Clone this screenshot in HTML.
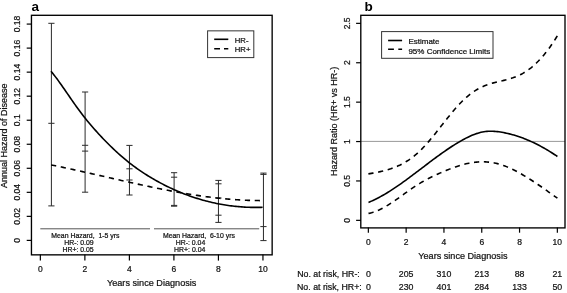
<!DOCTYPE html>
<html><head><meta charset="utf-8"><style>
html,body{margin:0;padding:0;background:#fff;}
body{width:567px;height:293px;overflow:hidden;font-family:"Liberation Sans",sans-serif;}
svg{display:block;filter:blur(0.45px);}
text{stroke:#111;stroke-width:0.22px;}
</style></head><body>
<svg width="567" height="293" viewBox="0 0 567 293" font-family="Liberation Sans, sans-serif">
<rect width="567" height="293" fill="#fff"/>
<g stroke="#000" stroke-width="1.2" fill="none">
<line x1="26.7" y1="240.40" x2="31.5" y2="240.40"/>
<line x1="26.7" y1="216.36" x2="31.5" y2="216.36"/>
<line x1="26.7" y1="192.33" x2="31.5" y2="192.33"/>
<line x1="26.7" y1="168.29" x2="31.5" y2="168.29"/>
<line x1="26.7" y1="144.26" x2="31.5" y2="144.26"/>
<line x1="26.7" y1="120.22" x2="31.5" y2="120.22"/>
<line x1="26.7" y1="96.18" x2="31.5" y2="96.18"/>
<line x1="26.7" y1="72.15" x2="31.5" y2="72.15"/>
<line x1="26.7" y1="48.11" x2="31.5" y2="48.11"/>
<line x1="26.7" y1="24.08" x2="31.5" y2="24.08"/>
<line x1="40.35" y1="254.5" x2="40.35" y2="260.6"/>
<line x1="84.87" y1="254.5" x2="84.87" y2="260.6"/>
<line x1="129.39" y1="254.5" x2="129.39" y2="260.6"/>
<line x1="173.91" y1="254.5" x2="173.91" y2="260.6"/>
<line x1="218.43" y1="254.5" x2="218.43" y2="260.6"/>
<line x1="262.95" y1="254.5" x2="262.95" y2="260.6"/>
</g>
<g font-size="8.5" fill="#111" text-anchor="middle">
<text transform="translate(20.1,240.40) rotate(-90)">0</text>
<text transform="translate(20.1,216.36) rotate(-90)">0.02</text>
<text transform="translate(20.1,192.33) rotate(-90)">0.04</text>
<text transform="translate(20.1,168.29) rotate(-90)">0.06</text>
<text transform="translate(20.1,144.26) rotate(-90)">0.08</text>
<text transform="translate(20.1,120.22) rotate(-90)">0.1</text>
<text transform="translate(20.1,96.18) rotate(-90)">0.12</text>
<text transform="translate(20.1,72.15) rotate(-90)">0.14</text>
<text transform="translate(20.1,48.11) rotate(-90)">0.16</text>
<text transform="translate(20.1,24.08) rotate(-90)">0.18</text>
<text x="40.35" y="272">0</text>
<text x="84.87" y="272">2</text>
<text x="129.39" y="272">4</text>
<text x="173.91" y="272">6</text>
<text x="218.43" y="272">8</text>
<text x="262.95" y="272">10</text>
</g>
<text x="151.7" y="286.1" font-size="9.15" fill="#111" text-anchor="middle">Years since Diagnosis</text>
<text transform="translate(6.9,135.7) rotate(-90)" font-size="9.0" fill="#111" text-anchor="middle">Annual Hazard of Disease</text>
<text x="31.6" y="10.9" font-size="13.5" font-weight="bold" fill="#000" style="stroke:none">a</text>
<g stroke="#2a2a2a" stroke-width="1" fill="none">
<line x1="51.4" y1="23.3" x2="51.4" y2="205.9"/>
<line x1="48.3" y1="23.3" x2="54.5" y2="23.3"/>
<line x1="48.3" y1="123.3" x2="54.5" y2="123.3"/>
<line x1="48.3" y1="205.9" x2="54.5" y2="205.9"/>
<line x1="85.1" y1="92.0" x2="85.1" y2="192.2"/>
<line x1="82.0" y1="92.0" x2="88.19999999999999" y2="92.0"/>
<line x1="82.0" y1="145.3" x2="88.19999999999999" y2="145.3"/>
<line x1="82.0" y1="151.1" x2="88.19999999999999" y2="151.1"/>
<line x1="82.0" y1="192.2" x2="88.19999999999999" y2="192.2"/>
<line x1="129.45" y1="145.4" x2="129.45" y2="195.0"/>
<line x1="126.35" y1="145.4" x2="132.54999999999998" y2="145.4"/>
<line x1="126.35" y1="168.8" x2="132.54999999999998" y2="168.8"/>
<line x1="126.35" y1="180.0" x2="132.54999999999998" y2="180.0"/>
<line x1="126.35" y1="195.0" x2="132.54999999999998" y2="195.0"/>
<line x1="174.1" y1="172.7" x2="174.1" y2="206.2"/>
<line x1="171.0" y1="172.7" x2="177.2" y2="172.7"/>
<line x1="171.0" y1="177.2" x2="177.2" y2="177.2"/>
<line x1="171.0" y1="205.4" x2="177.2" y2="205.4"/>
<line x1="171.0" y1="206.2" x2="177.2" y2="206.2"/>
<line x1="218.45" y1="180.4" x2="218.45" y2="222.4"/>
<line x1="215.35" y1="180.4" x2="221.54999999999998" y2="180.4"/>
<line x1="215.35" y1="183.8" x2="221.54999999999998" y2="183.8"/>
<line x1="215.35" y1="198.0" x2="221.54999999999998" y2="198.0"/>
<line x1="215.35" y1="215.2" x2="221.54999999999998" y2="215.2"/>
<line x1="215.35" y1="222.4" x2="221.54999999999998" y2="222.4"/>
<line x1="263.45" y1="173.1" x2="263.45" y2="240.6"/>
<line x1="260.34999999999997" y1="173.1" x2="266.55" y2="173.1"/>
<line x1="260.34999999999997" y1="174.4" x2="266.55" y2="174.4"/>
<line x1="260.34999999999997" y1="226.6" x2="266.55" y2="226.6"/>
<line x1="260.34999999999997" y1="240.6" x2="266.55" y2="240.6"/>
</g>
<path d="M51.00,71.24 L52.49,73.05 L53.98,74.93 L55.47,76.87 L56.96,78.85 L58.45,80.88 L59.94,82.95 L61.43,85.05 L62.92,87.17 L64.41,89.32 L65.90,91.48 L67.39,93.64 L68.88,95.81 L70.37,97.98 L71.86,100.13 L73.35,102.27 L74.84,104.38 L76.33,106.47 L77.82,108.52 L79.31,110.54 L80.80,112.52 L82.29,114.47 L83.78,116.39 L85.27,118.27 L86.76,120.13 L88.25,121.95 L89.74,123.75 L91.23,125.51 L92.72,127.25 L94.21,128.96 L95.70,130.65 L97.19,132.31 L98.68,133.95 L100.17,135.56 L101.66,137.16 L103.15,138.73 L104.65,140.28 L106.14,141.81 L107.63,143.31 L109.12,144.80 L110.61,146.26 L112.10,147.70 L113.59,149.12 L115.08,150.52 L116.57,151.89 L118.06,153.25 L119.55,154.58 L121.04,155.89 L122.53,157.17 L124.02,158.44 L125.51,159.68 L127.00,160.90 L128.49,162.09 L129.98,163.27 L131.47,164.42 L132.96,165.55 L134.45,166.65 L135.94,167.74 L137.43,168.80 L138.92,169.84 L140.41,170.87 L141.90,171.87 L143.39,172.86 L144.88,173.82 L146.37,174.77 L147.86,175.70 L149.35,176.62 L150.84,177.52 L152.33,178.40 L153.82,179.26 L155.31,180.11 L156.80,180.95 L158.29,181.77 L159.78,182.58 L161.27,183.37 L162.76,184.15 L164.25,184.92 L165.74,185.67 L167.23,186.41 L168.72,187.14 L170.21,187.85 L171.70,188.55 L173.19,189.23 L174.68,189.90 L176.17,190.56 L177.66,191.20 L179.15,191.83 L180.64,192.45 L182.13,193.06 L183.62,193.65 L185.11,194.23 L186.60,194.79 L188.09,195.34 L189.58,195.88 L191.07,196.41 L192.56,196.92 L194.05,197.42 L195.54,197.91 L197.03,198.38 L198.52,198.84 L200.01,199.29 L201.50,199.73 L202.99,200.15 L204.48,200.56 L205.97,200.96 L207.46,201.35 L208.95,201.72 L210.45,202.08 L211.94,202.43 L213.43,202.77 L214.92,203.09 L216.41,203.41 L217.90,203.71 L219.39,204.00 L220.88,204.27 L222.37,204.54 L223.86,204.79 L225.35,205.03 L226.84,205.26 L228.33,205.48 L229.82,205.68 L231.31,205.87 L232.80,206.06 L234.29,206.23 L235.78,206.38 L237.27,206.53 L238.76,206.67 L240.25,206.79 L241.74,206.91 L243.23,207.01 L244.72,207.10 L246.21,207.18 L247.70,207.24 L249.19,207.30 L250.68,207.35 L252.17,207.38 L253.66,207.40 L255.15,207.42 L256.64,207.42 L258.13,207.41 L259.62,207.39 L261.11,207.36 L262.60,207.32" stroke="#000" stroke-width="1.6" fill="none"/>
<path d="M51.10,164.92 L52.59,165.21 L54.08,165.52 L55.58,165.82 L57.07,166.13 L58.56,166.43 L60.05,166.75 L61.55,167.06 L63.04,167.37 L64.53,167.69 L66.02,168.00 L67.51,168.32 L69.01,168.64 L70.50,168.97 L71.99,169.29 L73.48,169.62 L74.98,169.94 L76.47,170.27 L77.96,170.60 L79.45,170.93 L80.95,171.26 L82.44,171.60 L83.93,171.93 L85.42,172.26 L86.91,172.60 L88.41,172.94 L89.90,173.27 L91.39,173.61 L92.88,173.95 L94.38,174.29 L95.87,174.63 L97.36,174.97 L98.85,175.31 L100.34,175.65 L101.84,175.99 L103.33,176.33 L104.82,176.67 L106.31,177.01 L107.81,177.35 L109.30,177.70 L110.79,178.04 L112.28,178.38 L113.77,178.72 L115.27,179.06 L116.76,179.40 L118.25,179.74 L119.74,180.08 L121.24,180.41 L122.73,180.75 L124.22,181.09 L125.71,181.42 L127.20,181.76 L128.70,182.09 L130.19,182.43 L131.68,182.76 L133.17,183.09 L134.67,183.42 L136.16,183.75 L137.65,184.08 L139.14,184.40 L140.64,184.73 L142.13,185.05 L143.62,185.37 L145.11,185.69 L146.60,186.01 L148.10,186.33 L149.59,186.65 L151.08,186.96 L152.57,187.27 L154.07,187.58 L155.56,187.89 L157.05,188.19 L158.54,188.50 L160.03,188.80 L161.53,189.09 L163.02,189.39 L164.51,189.69 L166.00,189.98 L167.50,190.27 L168.99,190.55 L170.48,190.84 L171.97,191.12 L173.46,191.39 L174.96,191.67 L176.45,191.94 L177.94,192.21 L179.43,192.48 L180.93,192.74 L182.42,193.00 L183.91,193.26 L185.40,193.51 L186.90,193.76 L188.39,194.01 L189.88,194.25 L191.37,194.49 L192.86,194.73 L194.36,194.96 L195.85,195.19 L197.34,195.41 L198.83,195.63 L200.33,195.85 L201.82,196.06 L203.31,196.27 L204.80,196.48 L206.29,196.68 L207.79,196.87 L209.28,197.06 L210.77,197.25 L212.26,197.44 L213.76,197.61 L215.25,197.79 L216.74,197.96 L218.23,198.12 L219.72,198.28 L221.22,198.44 L222.71,198.59 L224.20,198.73 L225.69,198.87 L227.19,199.01 L228.68,199.14 L230.17,199.26 L231.66,199.38 L233.15,199.50 L234.65,199.61 L236.14,199.71 L237.63,199.81 L239.12,199.90 L240.62,199.99 L242.11,200.07 L243.60,200.15 L245.09,200.21 L246.59,200.28 L248.08,200.34 L249.57,200.39 L251.06,200.43 L252.55,200.47 L254.05,200.51 L255.54,200.53 L257.03,200.55 L258.52,200.57 L260.02,200.58 L261.51,200.58 L263.00,200.57" stroke="#000" stroke-width="1.6" fill="none" stroke-dasharray="5.2,4.66"/>
<g stroke="#555" stroke-width="1">
<line x1="40.3" y1="228.8" x2="150.0" y2="228.8"/>
<line x1="154.0" y1="228.8" x2="259.2" y2="228.8"/>
</g>
<g font-size="6.9" fill="#111">
<text x="51.3" y="237.9">Mean Hazard,&#160; 1-5 yrs</text>
<text x="93.7" y="244.5" text-anchor="end">HR-: 0.09</text>
<text x="93.7" y="251.6" text-anchor="end">HR+: 0.05</text>
<text x="162.9" y="237.9">Mean Hazard,&#160; 6-10 yrs</text>
<text x="205.3" y="244.5" text-anchor="end">HR-: 0.04</text>
<text x="205.3" y="251.6" text-anchor="end">HR+: 0.04</text>
</g>
<rect x="207.6" y="30.85" width="46.2" height="26.75" fill="none" stroke="#333" stroke-width="1"/>
<line x1="214.2" y1="39.3" x2="228.3" y2="39.3" stroke="#000" stroke-width="1.6"/>
<line x1="214.2" y1="48.7" x2="228.3" y2="48.7" stroke="#000" stroke-width="1.6" stroke-dasharray="5.8,4"/>
<g font-size="7.7" fill="#111"><text x="234.8" y="43">HR-</text><text x="234.8" y="52.4">HR+</text></g>
<rect x="31.45" y="15.3" width="240.7" height="239.55" fill="none" stroke="#000" stroke-width="1.35"/>
<g stroke="#000" stroke-width="1.2" fill="none">
<line x1="356.1" y1="220.35" x2="361" y2="220.35"/>
<line x1="356.1" y1="180.95" x2="361" y2="180.95"/>
<line x1="356.1" y1="141.55" x2="361" y2="141.55"/>
<line x1="356.1" y1="102.15" x2="361" y2="102.15"/>
<line x1="356.1" y1="62.75" x2="361" y2="62.75"/>
<line x1="356.1" y1="23.35" x2="361" y2="23.35"/>
<line x1="368.35" y1="227.5" x2="368.35" y2="232.7"/>
<line x1="406.15" y1="227.5" x2="406.15" y2="232.7"/>
<line x1="443.95" y1="227.5" x2="443.95" y2="232.7"/>
<line x1="481.75" y1="227.5" x2="481.75" y2="232.7"/>
<line x1="519.55" y1="227.5" x2="519.55" y2="232.7"/>
<line x1="557.35" y1="227.5" x2="557.35" y2="232.7"/>
</g>
<g font-size="8.5" fill="#111" text-anchor="middle">
<text transform="translate(350.2,220.35) rotate(-90)">0</text>
<text transform="translate(350.2,180.95) rotate(-90)">0.5</text>
<text transform="translate(350.2,141.55) rotate(-90)">1</text>
<text transform="translate(350.2,102.15) rotate(-90)">1.5</text>
<text transform="translate(350.2,62.75) rotate(-90)">2</text>
<text transform="translate(350.2,23.35) rotate(-90)">2.5</text>
<text x="368.35" y="245.2">0</text>
<text x="406.15" y="245.2">2</text>
<text x="443.95" y="245.2">4</text>
<text x="481.75" y="245.2">6</text>
<text x="519.55" y="245.2">8</text>
<text x="557.35" y="245.2">10</text>
</g>
<text x="462.9" y="258.9" font-size="9.1" fill="#111" text-anchor="middle">Years since Diagnosis</text>
<text transform="translate(336.9,121.35) rotate(-90)" font-size="9.0" fill="#111" text-anchor="middle">Hazard Ratio (HR+ vs HR-)</text>
<text x="364.4" y="10.9" font-size="13.5" font-weight="bold" fill="#000" style="stroke:none">b</text>
<line x1="361" y1="141.4" x2="565" y2="141.4" stroke="#999" stroke-width="1"/>
<path d="M368.50,202.39 L370.00,201.77 L371.50,201.12 L373.00,200.44 L374.50,199.74 L376.00,199.00 L377.50,198.24 L378.99,197.46 L380.49,196.65 L381.99,195.82 L383.49,194.97 L384.99,194.09 L386.49,193.20 L387.99,192.28 L389.49,191.35 L390.99,190.39 L392.49,189.42 L393.99,188.43 L395.49,187.43 L396.98,186.41 L398.48,185.38 L399.98,184.34 L401.48,183.28 L402.98,182.21 L404.48,181.13 L405.98,180.04 L407.48,178.95 L408.98,177.84 L410.48,176.73 L411.98,175.61 L413.48,174.48 L414.98,173.35 L416.47,172.22 L417.97,171.08 L419.47,169.94 L420.97,168.80 L422.47,167.66 L423.97,166.52 L425.47,165.38 L426.97,164.24 L428.47,163.11 L429.97,161.98 L431.47,160.85 L432.97,159.73 L434.47,158.62 L435.96,157.51 L437.46,156.41 L438.96,155.32 L440.46,154.24 L441.96,153.17 L443.46,152.11 L444.96,151.06 L446.46,150.03 L447.96,149.01 L449.46,148.00 L450.96,147.01 L452.46,146.04 L453.95,145.08 L455.45,144.15 L456.95,143.23 L458.45,142.33 L459.95,141.45 L461.45,140.59 L462.95,139.76 L464.45,138.95 L465.95,138.16 L467.45,137.41 L468.95,136.68 L470.45,135.99 L471.95,135.34 L473.44,134.72 L474.94,134.15 L476.44,133.62 L477.94,133.14 L479.44,132.70 L480.94,132.32 L482.44,131.99 L483.94,131.71 L485.44,131.50 L486.94,131.34 L488.44,131.24 L489.94,131.19 L491.43,131.19 L492.93,131.24 L494.43,131.33 L495.93,131.45 L497.43,131.62 L498.93,131.81 L500.43,132.04 L501.93,132.29 L503.43,132.57 L504.93,132.86 L506.43,133.18 L507.93,133.52 L509.43,133.88 L510.92,134.26 L512.42,134.67 L513.92,135.09 L515.42,135.54 L516.92,136.01 L518.42,136.50 L519.92,137.01 L521.42,137.55 L522.92,138.10 L524.42,138.68 L525.92,139.27 L527.42,139.89 L528.92,140.53 L530.41,141.18 L531.91,141.86 L533.41,142.56 L534.91,143.28 L536.41,144.02 L537.91,144.78 L539.41,145.56 L540.91,146.36 L542.41,147.18 L543.91,148.02 L545.41,148.88 L546.91,149.76 L548.40,150.66 L549.90,151.58 L551.40,152.52 L552.90,153.48 L554.40,154.46 L555.90,155.45 L557.40,156.47" stroke="#000" stroke-width="1.6" fill="none"/>
<path d="M368.40,173.85 L369.89,173.61 L371.38,173.36 L372.87,173.11 L374.36,172.84 L375.84,172.57 L377.33,172.28 L378.82,171.97 L380.31,171.65 L381.80,171.31 L383.29,170.95 L384.78,170.57 L386.27,170.16 L387.76,169.73 L389.25,169.27 L390.73,168.79 L392.22,168.27 L393.71,167.72 L395.20,167.13 L396.69,166.51 L398.18,165.85 L399.67,165.16 L401.16,164.42 L402.65,163.64 L404.14,162.81 L405.62,161.94 L407.11,161.02 L408.60,160.06 L410.09,159.04 L411.58,157.96 L413.07,156.84 L414.56,155.65 L416.05,154.41 L417.54,153.11 L419.03,151.75 L420.51,150.32 L422.00,148.83 L423.49,147.29 L424.98,145.69 L426.47,144.04 L427.96,142.35 L429.45,140.62 L430.94,138.85 L432.43,137.05 L433.91,135.23 L435.40,133.38 L436.89,131.51 L438.38,129.63 L439.87,127.74 L441.36,125.85 L442.85,123.95 L444.34,122.06 L445.83,120.18 L447.32,118.30 L448.80,116.45 L450.29,114.61 L451.78,112.80 L453.27,111.02 L454.76,109.28 L456.25,107.57 L457.74,105.90 L459.23,104.28 L460.72,102.72 L462.21,101.21 L463.69,99.75 L465.18,98.37 L466.67,97.04 L468.16,95.78 L469.65,94.58 L471.14,93.44 L472.63,92.36 L474.12,91.35 L475.61,90.39 L477.10,89.49 L478.58,88.64 L480.07,87.86 L481.56,87.13 L483.05,86.45 L484.54,85.82 L486.03,85.24 L487.52,84.70 L489.01,84.20 L490.50,83.74 L491.99,83.30 L493.47,82.89 L494.96,82.50 L496.45,82.13 L497.94,81.76 L499.43,81.41 L500.92,81.06 L502.41,80.71 L503.90,80.35 L505.39,79.98 L506.87,79.59 L508.36,79.19 L509.85,78.77 L511.34,78.31 L512.83,77.83 L514.32,77.30 L515.81,76.74 L517.30,76.13 L518.79,75.47 L520.28,74.75 L521.76,73.98 L523.25,73.15 L524.74,72.25 L526.23,71.29 L527.72,70.27 L529.21,69.19 L530.70,68.04 L532.19,66.82 L533.68,65.54 L535.17,64.20 L536.65,62.78 L538.14,61.30 L539.63,59.75 L541.12,58.13 L542.61,56.45 L544.10,54.69 L545.59,52.86 L547.08,50.96 L548.57,48.99 L550.06,46.94 L551.54,44.82 L553.03,42.63 L554.52,40.36 L556.01,38.02 L557.50,35.60" stroke="#000" stroke-width="1.6" fill="none" stroke-dasharray="5.2,4.66"/>
<path d="M368.50,213.40 L370.00,213.11 L371.50,212.74 L373.00,212.31 L374.50,211.82 L376.00,211.27 L377.50,210.66 L378.99,210.00 L380.49,209.29 L381.99,208.53 L383.49,207.73 L384.99,206.89 L386.49,206.02 L387.99,205.10 L389.49,204.16 L390.99,203.19 L392.49,202.20 L393.99,201.18 L395.49,200.14 L396.98,199.09 L398.48,198.03 L399.98,196.95 L401.48,195.87 L402.98,194.79 L404.48,193.71 L405.98,192.63 L407.48,191.56 L408.98,190.49 L410.48,189.44 L411.98,188.41 L413.48,187.39 L414.98,186.39 L416.47,185.42 L417.97,184.48 L419.47,183.56 L420.97,182.67 L422.47,181.80 L423.97,180.95 L425.47,180.13 L426.97,179.33 L428.47,178.55 L429.97,177.78 L431.47,177.04 L432.97,176.31 L434.47,175.60 L435.96,174.90 L437.46,174.21 L438.96,173.54 L440.46,172.88 L441.96,172.23 L443.46,171.59 L444.96,170.96 L446.46,170.34 L447.96,169.73 L449.46,169.13 L450.96,168.55 L452.46,167.99 L453.95,167.45 L455.45,166.92 L456.95,166.41 L458.45,165.92 L459.95,165.45 L461.45,165.01 L462.95,164.59 L464.45,164.20 L465.95,163.83 L467.45,163.49 L468.95,163.18 L470.45,162.89 L471.95,162.64 L473.44,162.42 L474.94,162.24 L476.44,162.08 L477.94,161.96 L479.44,161.87 L480.94,161.82 L482.44,161.80 L483.94,161.82 L485.44,161.87 L486.94,161.96 L488.44,162.09 L489.94,162.25 L491.43,162.45 L492.93,162.69 L494.43,162.97 L495.93,163.29 L497.43,163.65 L498.93,164.05 L500.43,164.49 L501.93,164.97 L503.43,165.48 L504.93,166.04 L506.43,166.63 L507.93,167.25 L509.43,167.90 L510.92,168.59 L512.42,169.30 L513.92,170.03 L515.42,170.80 L516.92,171.59 L518.42,172.39 L519.92,173.22 L521.42,174.07 L522.92,174.94 L524.42,175.83 L525.92,176.73 L527.42,177.65 L528.92,178.59 L530.41,179.54 L531.91,180.50 L533.41,181.48 L534.91,182.47 L536.41,183.47 L537.91,184.48 L539.41,185.50 L540.91,186.53 L542.41,187.57 L543.91,188.61 L545.41,189.66 L546.91,190.72 L548.40,191.78 L549.90,192.84 L551.40,193.91 L552.90,194.97 L554.40,196.04 L555.90,197.10 L557.40,198.16" stroke="#000" stroke-width="1.6" fill="none" stroke-dasharray="5.2,4.66"/>
<rect x="381.6" y="31.6" width="111.4" height="26.7" fill="none" stroke="#333" stroke-width="1"/>
<line x1="388.1" y1="40.5" x2="402.1" y2="40.5" stroke="#000" stroke-width="1.6"/>
<line x1="388.1" y1="49.3" x2="402.1" y2="49.3" stroke="#000" stroke-width="1.6" stroke-dasharray="5.8,4.4"/>
<g font-size="8.0" fill="#111"><text x="408.4" y="44">Estimate</text><text x="408.4" y="53.6">95% Confidence Limits</text></g>
<rect x="360.8" y="15.3" width="204.2" height="212.6" fill="none" stroke="#000" stroke-width="1.35"/>
<g font-size="8.8" fill="#111">
<text x="297.2" y="277.2">No. at risk, HR-:</text>
<text x="297.0" y="290.3">No. at risk, HR+:</text>
</g>
<g font-size="8.8" fill="#111" text-anchor="middle">
<text x="368.35" y="277.2">0</text>
<text x="368.35" y="290.3">0</text>
<text x="406.15" y="277.2">205</text>
<text x="406.15" y="290.3">230</text>
<text x="443.95" y="277.2">310</text>
<text x="443.95" y="290.3">401</text>
<text x="481.75" y="277.2">213</text>
<text x="481.75" y="290.3">284</text>
<text x="519.55" y="277.2">88</text>
<text x="519.55" y="290.3">133</text>
<text x="557.35" y="277.2">21</text>
<text x="557.35" y="290.3">50</text>
</g>
</svg>
</body></html>
